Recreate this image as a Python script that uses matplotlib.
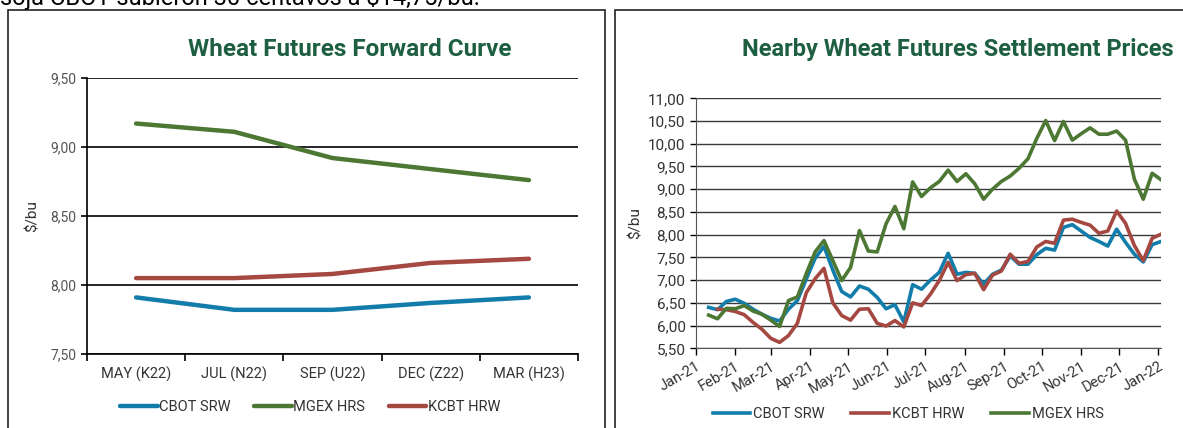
import matplotlib
matplotlib.use("Agg")
import matplotlib.pyplot as plt
import matplotlib.dates as mdates
from matplotlib.patches import Rectangle
from matplotlib.ticker import FuncFormatter
import numpy as np
import pandas as pd

plt.rcParams['font.family'] = ['Roboto', 'DejaVu Sans']

# forward curve
contracts = ["MAY (K22)", "JUL (N22)", "SEP (U22)", "DEC (Z22)", "MAR (H23)"]
cbot_curve = [7.91, 7.82, 7.82, 7.87, 7.91]
mgex_curve = [9.17, 9.11, 8.92, 8.84, 8.76]
kcbt_curve = [8.05, 8.05, 8.08, 8.16, 8.19]

# weekly nearby settlements
weeks = pd.date_range("2021-01-11", periods=52, freq="7D")
cbot_srw = [6.40, 6.35, 6.53, 6.58, 6.49, 6.36, 6.25, 6.16, 6.10, 6.36,
            6.55, 7.02, 7.48, 7.74, 7.22, 6.75, 6.63, 6.87, 6.80, 6.62,
            6.37, 6.46, 6.08, 6.90, 6.80, 7.00, 7.17, 7.59, 7.13, 7.17,
            7.15, 6.91, 7.13, 7.22, 7.53, 7.35, 7.35, 7.56, 7.70, 7.66,
            8.16, 8.22, 8.08, 7.94, 7.85, 7.75, 8.12, 7.83, 7.57, 7.40,
            7.78, 7.85]
kcbt_hrw = [np.nan, 6.36, 6.35, 6.31, 6.24, 6.07, 5.92, 5.72, 5.63, 5.78,
            6.05, 6.72, 7.03, 7.26, 6.50, 6.22, 6.12, 6.36, 6.37, 6.05,
            5.99, 6.11, 5.97, 6.50, 6.44, 6.69, 6.99, 7.39, 6.99, 7.12,
            7.15, 6.79, 7.11, 7.20, 7.57, 7.37, 7.41, 7.73, 7.85, 7.81,
            8.32, 8.34, 8.27, 8.21, 8.03, 8.08, 8.52, 8.25, 7.76, 7.43,
            7.92, 8.01]
mgex_hrs = [6.23, 6.15, 6.38, 6.37, 6.44, 6.32, 6.25, 6.12, 5.98, 6.55,
            6.63, 7.14, 7.62, 7.87, 7.43, 6.99, 7.28, 8.09, 7.64, 7.62,
            8.24, 8.62, 8.13, 9.16, 8.84, 9.03, 9.17, 9.42, 9.17, 9.34,
            9.12, 8.78, 9.00, 9.17, 9.29, 9.46, 9.67, 10.12, 10.51, 10.07,
            10.49, 10.08, 10.22, 10.35, 10.21, 10.21, 10.28, 10.08, 9.22, 8.78,
            9.35, 9.21]

BLUE = "#127dab"
GREEN = "#4c7834"
RED = "#a64842"
TITLE = "#1e5f41"
TXT = "#333333"

comma = FuncFormatter(lambda v, pos: f"{v:.2f}".replace(".", ","))

fig = plt.figure(figsize=(11.83, 4.28), dpi=100)

# text cut off from the page above
fig.text(0.0, 1 - 5 / 428, "soja CBOT subieron 30 centavos a $14,75/bu.",
         fontsize=17, color="black", ha="left", va="baseline")

# panel frames
fig.patches.append(Rectangle((8 / 1183, -0.05), 597 / 1183, 1.05 - 10 / 428,
                             transform=fig.transFigure, fill=False,
                             edgecolor="#222222", linewidth=1.2))
fig.patches.append(Rectangle((615 / 1183, -0.05), 0.5, 1.05 - 10 / 428,
                             transform=fig.transFigure, fill=False,
                             edgecolor="#222222", linewidth=1.2))

# ---------- left: forward curve ----------
ax = fig.add_axes([87 / 1183, 1 - 354 / 428, 491 / 1183, 276 / 428])
x = np.arange(len(contracts))
ax.plot(x, cbot_curve, color=BLUE, lw=3.2, label="CBOT SRW", solid_capstyle="round")
ax.plot(x, mgex_curve, color=GREEN, lw=3.2, label="MGEX HRS", solid_capstyle="round")
ax.plot(x, kcbt_curve, color=RED, lw=3.2, label="KCBT HRW", solid_capstyle="round")
ax.set_xlim(-0.5, 4.5)
ax.set_ylim(7.5, 9.5)
ax.set_yticks([7.5, 8.0, 8.5, 9.0, 9.5])
ax.yaxis.set_major_formatter(comma)
ax.yaxis.grid(True, color="black", lw=1.2)
ax.set_axisbelow(True)
ax.set_xticks(np.arange(-0.5, 5, 1))
ax.set_xticklabels([])
ax.set_xticks(x, minor=True)
ax.set_xticklabels(contracts, minor=True)
ax.tick_params(axis="x", which="major", length=5, width=1.2, direction="out")
ax.tick_params(axis="x", which="minor", length=0, pad=9, labelsize=10.5, labelcolor=TXT)
ax.tick_params(axis="y", length=4, width=1.2, labelsize=10, labelcolor="#555555")
for s in ["top", "right"]:
    ax.spines[s].set_visible(False)
for s in ["left", "bottom"]:
    ax.spines[s].set_linewidth(1.2)
ax.set_ylabel("$/bu", fontsize=11, color=TXT, labelpad=8)
ax.legend(loc="center", bbox_to_anchor=(310 / 1183, 1 - 407 / 428),
          bbox_transform=fig.transFigure, ncol=3, frameon=False,
          fontsize=10.5, handlelength=2.6, handletextpad=0.1, columnspacing=1.6,
          labelcolor=TXT)
fig.text(350 / 1183, 1 - 56 / 428, "Wheat Futures Forward Curve",
         fontsize=17.5, fontweight="bold", color=TITLE, ha="center", va="baseline")

# ---------- right: nearby settlements ----------
bx = fig.add_axes([696 / 1183, 1 - 348.3 / 428, 465 / 1183, 250 / 428])
bx.plot(weeks, cbot_srw, color=BLUE, lw=2.6, label="CBOT SRW")
bx.plot(weeks, kcbt_hrw, color=RED, lw=2.6, label="KCBT HRW")
bx.plot(weeks, mgex_hrs, color=GREEN, lw=2.6, label="MGEX HRS")
bx.set_xlim(pd.Timestamp("2021-01-01"), weeks[-1])
bx.set_ylim(5.5, 11.0)
bx.set_yticks(np.arange(5.5, 11.01, 0.5))
bx.yaxis.set_major_formatter(comma)
bx.yaxis.grid(True, color="#3a3a3a", lw=1.0)
bx.set_axisbelow(True)
bx.xaxis.set_major_locator(mdates.MonthLocator())
bx.xaxis.set_major_formatter(mdates.DateFormatter("%b-%y"))
bx.tick_params(axis="x", length=5, width=1, labelsize=10.5, labelcolor=TXT, pad=3)
bx.tick_params(axis="y", length=4, width=1, labelsize=11, labelcolor=TXT)
for lab in bx.get_xticklabels():
    lab.set_rotation(30)
    lab.set_ha("right")
    lab.set_rotation_mode("anchor")
for s in ["top", "right"]:
    bx.spines[s].set_visible(False)
bx.spines["left"].set_color("#555555")
bx.spines["bottom"].set_color("#555555")
bx.set_ylabel("$/bu", fontsize=11, color=TXT, labelpad=4)
bx.legend(loc="center", bbox_to_anchor=(908 / 1183, 1 - 414 / 428),
          bbox_transform=fig.transFigure, ncol=3, frameon=False,
          fontsize=10.5, handlelength=2.6, handletextpad=0.2, columnspacing=1.8,
          labelcolor=TXT)
fig.text(958 / 1183, 1 - 56 / 428, "Nearby Wheat Futures Settlement Prices",
         fontsize=17, fontweight="bold", color=TITLE, ha="center", va="baseline")

fig.savefig("out.png", dpi=100)
